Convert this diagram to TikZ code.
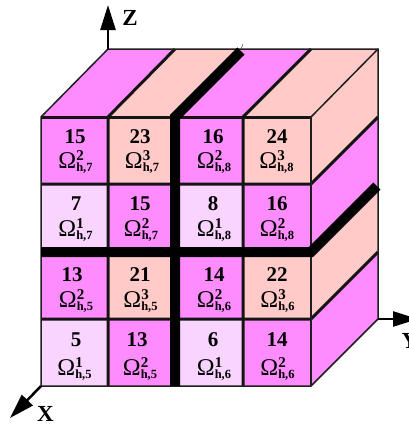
\documentclass[tikz,border=0pt]{standalone}
\usepackage{fontspec}
\setmainfont{Liberation Serif}
\usetikzlibrary{arrows.meta}
\definecolor{mag}{HTML}{FF8CFF}
\definecolor{sal}{HTML}{FFCAC8}
\definecolor{lil}{HTML}{F9D4FF}
\newcommand{\Om}[2]{{\fontsize{24}{24}\mdseries\selectfont Ω}\rlap{\raisebox{7.5pt}{\fontsize{15}{15}\bfseries\selectfont #1}}\raisebox{-3.5pt}{\fontsize{12.5}{12.5}\bfseries\selectfont h,#2}}
% #1 x, #2 y, #3 fill, #4 number, #5 number x, #6 number baseline, #7 #8 omega indices, #9 omega x; omega baseline in \ob
\newcommand{\Cell}[9]{%
  \fill[#3] (#1,#2) rectangle ++(68,68);
  \node[celltext] (n#7#8#1) at (#5,#6) {#4};
  \node[celltext] (o#7#8#1) at (#9,\ob) {\Om{#7}{#8}};
}
\newcommand{\ob}{0}
\tikzset{
  celltext/.style={inner sep=0pt,font=\fontsize{21}{21}\bfseries\selectfont,anchor=base},
  thin line/.style={line width=1.5pt,draw=black!88},
  mid line/.style={line width=3pt,draw=black!92},
  fat line/.style={line width=10pt,draw=black,line cap=butt},
  axis/.style={line width=2.5pt,draw=black,-{Triangle[length=25pt,width=15pt]},shorten >=0pt},
  axis label/.style={inner sep=0pt,anchor=base,font=\fontsize{23}{23}\bfseries\selectfont}
}
\begin{document}
\begin{tikzpicture}[x=1pt,y=-1pt]
\useasboundingbox (0,0) rectangle (409,426);
% top face
\fill[mag] (41,117) -- (108,49) -- (175,49) -- (108,117) -- cycle;
\fill[sal] (108,117) -- (175,49) -- (243,49) -- (175,117) -- cycle;
\fill[mag] (175,117) -- (243,49) -- (311,49) -- (243,117) -- cycle;
\fill[sal] (243,117) -- (311,49) -- (378,49) -- (311,117) -- cycle;
% right face
\fill[sal] (311,117) -- (378,49) -- (378,117) -- (311,184) -- cycle;
\fill[mag] (311,184) -- (378,117) -- (378,184) -- (311,252) -- cycle;
\fill[sal] (311,252) -- (378,184) -- (378,252) -- (311,319) -- cycle;
\fill[mag] (311,319) -- (378,252) -- (378,319) -- (311,386) -- cycle;
% front cells
\renewcommand{\ob}{168}
\Cell{41}{117}{mag}{15}{75}{143}{2}{7}{75.5}
\Cell{108}{117}{sal}{23}{140}{143}{3}{7}{142}
\Cell{175}{117}{mag}{16}{213}{143}{2}{8}{214}
\Cell{243}{117}{sal}{24}{277}{143}{3}{8}{276.5}
\renewcommand{\ob}{236}
\Cell{41}{184}{lil}{7}{76}{210}{1}{7}{75.5}
\Cell{108}{184}{mag}{15}{140}{210}{2}{7}{141}
\Cell{175}{184}{lil}{8}{213}{210}{1}{8}{214}
\Cell{243}{184}{mag}{16}{277}{210}{2}{8}{277}
\renewcommand{\ob}{307}
\Cell{41}{252}{mag}{13}{72}{281}{2}{5}{76}
\Cell{108}{252}{sal}{21}{140}{281}{3}{5}{140.5}
\Cell{175}{252}{mag}{14}{214}{281}{2}{6}{214}
\Cell{243}{252}{sal}{22}{277}{281}{3}{6}{277.5}
\renewcommand{\ob}{375}
\Cell{41}{319}{lil}{5}{76}{346}{1}{5}{74.5}
\Cell{108}{319}{mag}{13}{137}{346}{2}{5}{140}
\Cell{175}{319}{lil}{6}{213}{346}{1}{6}{214}
\Cell{243}{319}{mag}{14}{277}{346}{2}{6}{277.5}
% medium lines
\draw[mid line] (108,386) -- (108,117) -- (175,49);
\draw[mid line] (243,386) -- (243,117) -- (311,49);
\draw[mid line] (41,184) -- (311,184) -- (378,117);
\draw[mid line] (41,319) -- (311,319) -- (378,252);
\draw[mid line] (41,117) -- (311,117);
% outline
\draw[thin line] (41,117) -- (108,49) -- (378,49) -- (378,319) -- (311,386) -- (41,386) -- cycle;
\draw[thin line] (311,117) -- (378,49);
\draw[thin line] (311,117) -- (311,386);
% fat lines
\draw[fat line] (175,386) -- (175,117) -- (241,51);
\draw[fat line,line join=miter] (41,252) -- (311,252) -- (377,186);
\draw[line width=0.5pt,black!70] (241,49) -- (243,44);
% axes
\coordinate (zs) at (108,49);
\coordinate (zt) at (108,5);
\coordinate (xs) at (41,386);
\coordinate (xt) at (10,418);
\coordinate (ys) at (378,319);
\coordinate (yt) at (418,319);
\draw[axis] (zs) -- (zt);
\draw[axis] (xs) -- (xt);
\draw[axis] (ys) -- (yt);
\node[axis label] (zl) at (130,25) {Z};
\node[axis label] (xl) at (45.5,421) {X};
\node[axis label,anchor=base west] (yl) at (401.5,348) {Y};
\end{tikzpicture}
\end{document}
